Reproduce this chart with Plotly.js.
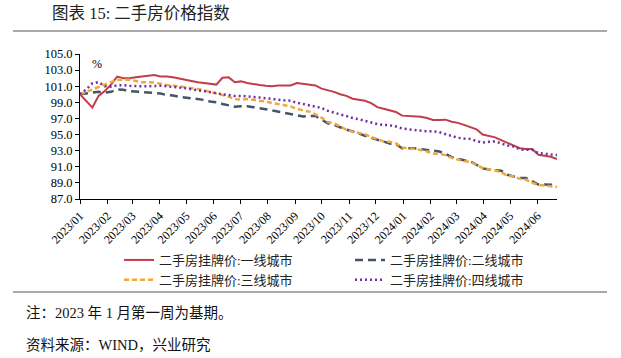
<!DOCTYPE html>
<html>
<head>
<meta charset="utf-8">
<script src="https://cdn.plot.ly/plotly-3.0.1.min.js"></script>
<style>html,body{margin:0;padding:0;background:#fff;}#chart{width:621px;height:358px;}</style>
</head>
<body>
<div id="chart"></div>
<script>
// Weekly observations, first week of Jan 2023 = 100
const startDate = '2023-01-01';
const weekCount = 78;
const seriesNames = ['二手房挂牌价:一线城市','二手房挂牌价:二线城市','二手房挂牌价:三线城市','二手房挂牌价:四线城市'];
const tier1 = [100.0,99.2,98.35,99.8,100.4,101.2,102.2,102.0,102.0,102.1,102.2,102.3,102.4,102.2,102.2,102.1,101.95,101.8,101.6,101.5,101.4,101.3,101.2,102.05,102.1,101.5,101.6,101.4,101.25,101.15,101.05,101.0,101.1,101.1,101.1,101.4,101.3,101.2,101.1,100.7,100.5,100.3,100.0,99.8,99.45,99.3,99.2,98.9,98.4,98.2,98.0,97.8,97.35,97.3,97.3,97.2,97.05,96.8,96.8,96.85,96.6,96.45,96.2,95.95,95.65,95.0,94.8,94.65,94.3,94.0,93.6,93.3,93.2,93.2,92.5,92.4,92.25,91.95];
const tier2 = [100.0,100.1,100.2,100.3,100.2,100.3,100.6,100.55,100.4,100.35,100.3,100.25,100.2,100.1,99.9,99.85,99.7,99.6,99.5,99.4,99.3,99.1,99.0,98.8,98.6,98.45,98.5,98.5,98.4,98.3,98.15,98.0,97.85,97.7,97.55,97.35,97.25,97.3,97.3,96.85,96.4,96.2,95.9,95.6,95.4,95.1,94.85,94.6,94.35,94.1,93.9,93.8,93.3,93.3,93.3,93.2,93.1,93.0,92.9,92.6,92.2,92.0,91.8,91.7,91.2,90.8,90.65,90.55,90.5,90.0,89.8,89.6,89.6,89.2,88.8,88.8,88.8,88.75];
const tier3 = [100.0,100.3,100.6,100.85,101.2,101.45,101.8,101.8,101.8,101.65,101.5,101.5,101.45,101.3,101.15,101.1,101.0,100.9,100.8,100.65,100.5,100.3,100.1,99.85,99.7,99.4,99.35,99.4,99.3,99.2,99.1,98.9,98.8,98.65,98.5,98.2,98.0,97.85,97.5,97.1,96.55,96.4,96.0,95.6,95.35,95.2,95.05,94.7,94.4,94.15,94.1,93.9,93.4,93.25,93.25,93.1,92.9,92.65,92.6,92.45,92.1,91.9,91.7,91.6,91.2,90.85,90.7,90.55,90.3,89.9,89.8,89.5,89.4,89.0,88.75,88.65,88.6,88.5];
const tier4 = [100.0,100.6,101.35,101.5,101.0,100.95,101.1,101.15,101.05,101.0,101.0,101.0,101.05,101.05,101.0,100.95,100.85,100.75,100.6,100.5,100.4,100.25,100.1,100.0,99.9,99.8,99.8,99.75,99.7,99.6,99.5,99.4,99.3,99.25,99.2,98.95,98.8,98.65,98.5,98.3,97.95,97.7,97.5,97.3,97.05,96.9,96.7,96.55,96.3,96.2,96.15,96.0,95.75,95.65,95.55,95.45,95.4,95.4,95.3,95.05,94.8,94.6,94.5,94.45,94.2,94.0,94.1,94.15,93.9,93.65,93.5,93.15,93.1,93.1,92.7,92.6,92.5,92.45];
const yTicks = [87,89,91,93,95,97,99,101,103,105];

function weekDates(start, n){
  const out = [];
  const d0 = new Date(start + 'T00:00:00Z');
  for(let i=0;i<n;i++){
    const d = new Date(d0.getTime() + i*7*86400000);
    out.push(d.toISOString().slice(0,10));
  }
  return out;
}
const dates = weekDates(startDate, weekCount);

const serif = '"Times New Roman", "Liberation Serif", "Noto Sans CJK SC", serif';
const cjk = '"Liberation Serif", "Noto Sans CJK SC", serif';

const traces = [
  {x:dates, y:tier1, name:seriesNames[0], legend:'legend', mode:'lines', line:{color:'#C23C4B', width:2}},
  {x:dates, y:tier2, name:seriesNames[1], legend:'legend2', mode:'lines', line:{color:'#44546A', width:2.5, dash:'8px,5px'}},
  {x:dates, y:tier3, name:seriesNames[2], legend:'legend', mode:'lines', line:{color:'#F2A73B', width:2.5, dash:'5px,3px'}},
  {x:dates, y:tier4, name:seriesNames[3], legend:'legend2', mode:'lines', line:{color:'#7030A0', width:2.5, dash:'2px,3px'}}
];

function px2x(px){ return (px-80)/477; }
function px2y(py){ return (199-py)/145; }

const legendFont = {family:cjk, size:13, color:'#222'};
const layout = {
  width:621, height:358,
  margin:{l:80, r:64, t:54, b:159},
  paper_bgcolor:'#fff', plot_bgcolor:'#fff',
  showlegend:true,
  legend:{orientation:'v', x:px2x(119), xanchor:'left', y:px2y(245), yanchor:'top',
    tracegroupgap:0, font:legendFont, bgcolor:'rgba(0,0,0,0)'},
  legend2:{orientation:'v', x:px2x(350), xanchor:'left', y:px2y(245), yanchor:'top',
    tracegroupgap:0, font:legendFont, bgcolor:'rgba(0,0,0,0)'},
  xaxis:{type:'date', range:['2023-01-01','2024-06-23'], tick0:'2023-01-01', dtick:'M1',
    tickformat:'%Y/%m', tickangle:-45, ticks:'outside', ticklen:4, tickcolor:'#000',
    showline:true, linecolor:'#000', linewidth:1, showgrid:false, zeroline:false,
    tickfont:{family:serif, size:12, color:'#000'}},
  yaxis:{range:[87,105], tickvals:yTicks, tickformat:'.1f', ticks:'outside', ticklen:4, tickcolor:'#000',
    showline:true, linecolor:'#000', linewidth:1, showgrid:false, zeroline:false,
    tickfont:{family:serif, size:12.5, color:'#000'}},
  shapes:[
    {type:'line', xref:'paper', yref:'paper', x0:px2x(13), x1:px2x(607), y0:px2y(31), y1:px2y(31), line:{color:'#8c8c8c', width:1.5}},
    {type:'line', xref:'paper', yref:'paper', x0:px2x(13), x1:px2x(607), y0:px2y(292), y1:px2y(292), line:{color:'#8c8c8c', width:1.5}}
  ],
  annotations:[
    {text:'图表 15: 二手房价格指数', xref:'paper', yref:'paper', x:px2x(50), y:px2y(14), xanchor:'left', yanchor:'middle', showarrow:false, font:{family:cjk, size:16.5, color:'#222'}},
    {text:'%', xref:'paper', yref:'paper', x:px2x(97), y:px2y(64), xanchor:'center', yanchor:'middle', showarrow:false, font:{family:serif, size:12, color:'#000'}},
    {text:'注：2023 年 1 月第一周为基期。', xref:'paper', yref:'paper', x:px2x(24), y:px2y(312), xanchor:'left', yanchor:'middle', showarrow:false, font:{family:cjk, size:14.5, color:'#111'}},
    {text:'资料来源：WIND，兴业研究', xref:'paper', yref:'paper', x:px2x(24), y:px2y(345), xanchor:'left', yanchor:'middle', showarrow:false, font:{family:cjk, size:14.5, color:'#111'}}
  ]
};

Plotly.newPlot('chart', traces, layout, {staticPlot:true, displayModeBar:false});
</script>
</body>
</html>
